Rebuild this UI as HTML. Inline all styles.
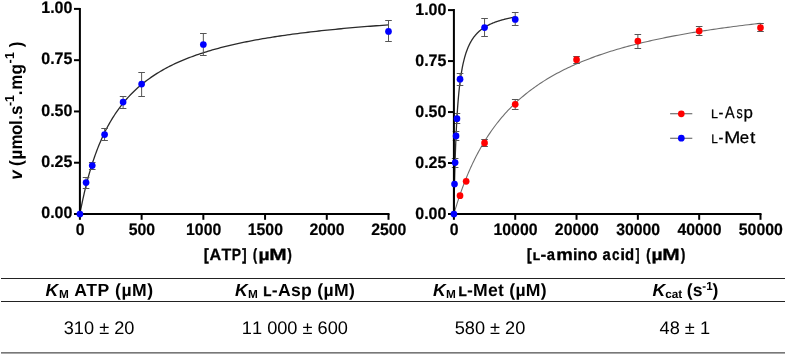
<!DOCTYPE html>
<html><head><meta charset="utf-8"><title>Kinetics</title>
<style>html,body{margin:0;padding:0;background:#fff}body{width:785px;height:355px;overflow:hidden}</style></head>
<body>
<svg width="785" height="355" viewBox="0 0 785 355" style="display:block;font-family:'Liberation Sans',sans-serif;font-kerning:none;text-rendering:geometricPrecision;will-change:transform">
<rect width="785" height="355" fill="#fff"/>
<polyline fill="none" stroke="#2b2b2b" stroke-width="1.3" points="79.90,214.00 79.91,213.96 79.93,213.84 79.97,213.63 80.02,213.34 80.09,212.98 80.18,212.53 80.28,212.00 80.39,211.40 80.52,210.72 80.67,209.97 80.83,209.14 81.01,208.24 81.20,207.27 81.41,206.24 81.64,205.14 81.88,203.97 82.13,202.75 82.40,201.46 82.69,200.13 82.99,198.73 83.30,197.29 83.63,195.80 83.98,194.27 84.34,192.69 84.72,191.07 85.12,189.41 85.52,187.72 85.95,186.00 86.39,184.25 86.84,182.47 87.31,180.66 87.80,178.84 88.30,176.99 88.82,175.13 89.35,173.25 89.90,171.36 90.46,169.46 91.04,167.55 91.63,165.64 92.24,163.71 92.87,161.79 93.51,159.87 94.17,157.94 94.84,156.02 95.52,154.10 96.22,152.19 96.94,150.28 97.68,148.38 98.42,146.49 99.19,144.61 99.97,142.74 100.76,140.89 101.57,139.04 102.40,137.21 103.24,135.40 104.09,133.60 104.97,131.82 105.85,130.05 106.76,128.30 107.67,126.57 108.61,124.86 109.56,123.16 110.52,121.49 111.50,119.83 112.50,118.20 113.51,116.58 114.53,114.98 115.57,113.41 116.63,111.85 117.70,110.32 118.79,108.80 119.89,107.31 121.01,105.83 122.15,104.38 123.30,102.95 124.46,101.54 125.64,100.14 126.84,98.77 128.05,97.42 129.28,96.09 130.52,94.78 131.78,93.49 133.05,92.21 134.34,90.96 135.64,89.73 136.96,88.51 138.29,87.32 139.64,86.14 141.01,84.98 142.39,83.84 143.79,82.72 145.20,81.62 146.63,80.53 148.07,79.46 149.53,78.41 151.00,77.37 152.49,76.36 153.99,75.35 155.51,74.37 157.05,73.40 158.60,72.44 160.17,71.51 161.75,70.58 163.35,69.67 164.96,68.78 166.59,67.90 168.23,67.04 169.89,66.18 171.56,65.35 173.25,64.52 174.96,63.71 176.68,62.92 178.41,62.13 180.16,61.36 181.93,60.60 183.71,59.85 185.51,59.12 187.32,58.40 189.15,57.69 191.00,56.99 192.86,56.30 194.73,55.62 196.62,54.95 198.53,54.30 200.45,53.65 202.38,53.01 204.34,52.39 206.30,51.77 208.29,51.17 210.28,50.57 212.30,49.98 214.33,49.41 216.37,48.84 218.43,48.28 220.51,47.73 222.60,47.18 224.70,46.65 226.82,46.12 228.96,45.61 231.11,45.10 233.28,44.59 235.47,44.10 237.66,43.61 239.88,43.13 242.11,42.66 244.35,42.20 246.61,41.74 248.89,41.29 251.18,40.84 253.49,40.41 255.81,39.97 258.15,39.55 260.50,39.13 262.87,38.72 265.25,38.31 267.65,37.91 270.07,37.52 272.50,37.13 274.94,36.75 277.40,36.37 279.88,36.00 282.37,35.63 284.88,35.27 287.40,34.91 289.94,34.56 292.49,34.21 295.06,33.87 297.65,33.53 300.25,33.20 302.86,32.88 305.49,32.55 308.14,32.23 310.80,31.92 313.48,31.61 316.17,31.31 318.88,31.01 321.60,30.71 324.34,30.42 327.10,30.13 329.87,29.84 332.65,29.56 335.45,29.28 338.27,29.01 341.10,28.74 343.95,28.47 346.81,28.21 349.69,27.95 352.58,27.70 355.49,27.44 358.41,27.19 361.35,26.95 364.31,26.71 367.28,26.47 370.26,26.23 373.26,26.00 376.28,25.77 379.31,25.54 382.36,25.31 385.42,25.09 388.50,24.87"/>
<polyline fill="none" stroke="#6e6e6e" stroke-width="1.1" points="453.90,214.00 453.91,213.97 453.93,213.89 453.97,213.76 454.02,213.58 454.09,213.34 454.18,213.05 454.28,212.71 454.39,212.32 454.52,211.88 454.67,211.39 454.83,210.84 455.00,210.25 455.20,209.62 455.40,208.93 455.62,208.20 455.86,207.42 456.12,206.60 456.38,205.74 456.67,204.83 456.97,203.88 457.28,202.90 457.61,201.87 457.95,200.81 458.32,199.71 458.69,198.57 459.08,197.40 459.49,196.20 459.91,194.97 460.35,193.71 460.80,192.41 461.27,191.09 461.75,189.75 462.25,188.38 462.76,186.99 463.29,185.57 463.83,184.14 464.39,182.68 464.97,181.21 465.56,179.71 466.16,178.21 466.78,176.69 467.42,175.15 468.07,173.60 468.74,172.05 469.42,170.48 470.12,168.90 470.83,167.32 471.56,165.73 472.30,164.13 473.06,162.53 473.84,160.92 474.63,159.32 475.43,157.71 476.25,156.10 477.09,154.48 477.94,152.87 478.80,151.27 479.69,149.66 480.58,148.06 481.49,146.46 482.42,144.86 483.36,143.27 484.32,141.69 485.30,140.11 486.28,138.53 487.29,136.97 488.31,135.41 489.34,133.86 490.39,132.32 491.46,130.79 492.54,129.27 493.64,127.75 494.75,126.25 495.87,124.76 497.02,123.28 498.17,121.81 499.35,120.35 500.53,118.90 501.74,117.47 502.96,116.04 504.19,114.63 505.44,113.23 506.70,111.84 507.98,110.47 509.28,109.11 510.59,107.76 511.92,106.42 513.26,105.10 514.61,103.79 515.99,102.49 517.37,101.21 518.78,99.94 520.19,98.68 521.63,97.44 523.08,96.21 524.54,94.99 526.02,93.78 527.51,92.59 529.02,91.42 530.55,90.25 532.09,89.10 533.65,87.96 535.22,86.83 536.80,85.72 538.41,84.62 540.02,83.53 541.66,82.46 543.30,81.40 544.97,80.35 546.65,79.31 548.34,78.28 550.05,77.27 551.77,76.27 553.51,75.28 555.27,74.30 557.04,73.34 558.83,72.39 560.63,71.45 562.44,70.52 564.28,69.60 566.12,68.69 567.99,67.79 569.86,66.91 571.76,66.03 573.67,65.17 575.59,64.32 577.53,63.48 579.48,62.64 581.45,61.82 583.44,61.01 585.44,60.21 587.45,59.42 589.49,58.64 591.53,57.87 593.59,57.11 595.67,56.35 597.76,55.61 599.87,54.88 602.00,54.15 604.13,53.44 606.29,52.73 608.46,52.04 610.64,51.35 612.84,50.67 615.06,49.99 617.29,49.33 619.53,48.68 621.79,48.03 624.07,47.39 626.36,46.76 628.67,46.14 630.99,45.52 633.33,44.91 635.68,44.31 638.05,43.72 640.44,43.14 642.83,42.56 645.25,41.99 647.68,41.42 650.12,40.87 652.58,40.31 655.06,39.77 657.55,39.23 660.06,38.70 662.58,38.18 665.12,37.66 667.67,37.15 670.24,36.65 672.82,36.15 675.42,35.66 678.03,35.17 680.66,34.69 683.31,34.21 685.97,33.74 688.64,33.28 691.33,32.82 694.04,32.37 696.76,31.92 699.49,31.48 702.25,31.04 705.01,30.61 707.80,30.18 710.59,29.76 713.41,29.35 716.23,28.93 719.08,28.53 721.94,28.13 724.81,27.73 727.70,27.34 730.61,26.95 733.53,26.56 736.46,26.18 739.41,25.81 742.38,25.44 745.36,25.07 748.36,24.71 751.37,24.35 754.40,24.00 757.44,23.65 760.50,23.30"/>
<polyline fill="none" stroke="#2b2b2b" stroke-width="1.3" points="453.90,214.00 453.90,213.91 453.91,213.64 453.91,213.19 453.92,212.57 453.94,211.78 453.96,210.82 453.98,209.69 454.00,208.41 454.02,206.97 454.05,205.39 454.09,203.67 454.12,201.82 454.16,199.85 454.20,197.77 454.24,195.58 454.29,193.29 454.34,190.92 454.40,188.46 454.45,185.94 454.51,183.36 454.58,180.72 454.64,178.03 454.71,175.31 454.78,172.55 454.86,169.78 454.94,166.98 455.02,164.18 455.10,161.37 455.19,158.56 455.28,155.76 455.37,152.96 455.47,150.19 455.57,147.43 455.67,144.70 455.78,141.99 455.89,139.31 456.00,136.67 456.11,134.06 456.23,131.48 456.35,128.94 456.48,126.45 456.60,123.99 456.73,121.58 456.87,119.21 457.00,116.88 457.14,114.60 457.29,112.36 457.43,110.17 457.58,108.02 457.73,105.92 457.89,103.86 458.05,101.84 458.21,99.87 458.37,97.95 458.54,96.06 458.71,94.22 458.88,92.43 459.06,90.67 459.24,88.95 459.42,87.28 459.60,85.64 459.79,84.05 459.98,82.49 460.18,80.97 460.38,79.48 460.58,78.03 460.78,76.62 460.99,75.24 461.20,73.89 461.41,72.57 461.63,71.29 461.85,70.04 462.07,68.82 462.29,67.63 462.52,66.46 462.75,65.33 462.99,64.22 463.23,63.14 463.47,62.09 463.71,61.06 463.96,60.05 464.21,59.07 464.46,58.11 464.72,57.18 464.98,56.26 465.24,55.37 465.50,54.50 465.77,53.65 466.04,52.82 466.32,52.01 466.59,51.22 466.88,50.44 467.16,49.69 467.45,48.95 467.74,48.23 468.03,47.52 468.32,46.83 468.62,46.16 468.92,45.50 469.23,44.86 469.54,44.23 469.85,43.61 470.16,43.01 470.48,42.42 470.80,41.84 471.12,41.28 471.45,40.73 471.78,40.19 472.11,39.66 472.45,39.14 472.79,38.63 473.13,38.14 473.47,37.65 473.82,37.18 474.17,36.71 474.53,36.26 474.89,35.81 475.25,35.38 475.61,34.95 475.98,34.53 476.34,34.12 476.72,33.72 477.09,33.32 477.47,32.93 477.85,32.56 478.24,32.18 478.63,31.82 479.02,31.46 479.41,31.11 479.81,30.77 480.21,30.43 480.61,30.10 481.02,29.78 481.43,29.46 481.84,29.15 482.25,28.84 482.67,28.54 483.09,28.24 483.52,27.95 483.95,27.67 484.38,27.39 484.81,27.12 485.25,26.85 485.69,26.58 486.13,26.32 486.58,26.07 487.03,25.82 487.48,25.57 487.93,25.33 488.39,25.09 488.85,24.86 489.32,24.63 489.79,24.40 490.26,24.18 490.73,23.97 491.21,23.75 491.69,23.54 492.17,23.33 492.66,23.13 493.14,22.93 493.64,22.73 494.13,22.54 494.63,22.35 495.13,22.16 495.64,21.98 496.14,21.80 496.65,21.62 497.17,21.44 497.68,21.27 498.20,21.10 498.73,20.93 499.25,20.77 499.78,20.61 500.31,20.45 500.85,20.29 501.39,20.13 501.93,19.98 502.47,19.83 503.02,19.68 503.57,19.54 504.12,19.40 504.68,19.25 505.24,19.12 505.80,18.98 506.37,18.84 506.94,18.71 507.51,18.58 508.08,18.45 508.66,18.32 509.24,18.20 509.83,18.07 510.41,17.95 511.00,17.83 511.60,17.71 512.19,17.60 512.79,17.48 513.39,17.37 514.00,17.26 514.61,17.15 515.22,17.04"/>
<path d="M86.07 177.50V188.50M82.77 177.50H89.37M82.77 188.50H89.37" stroke="#555" stroke-width="1" fill="none"/>
<path d="M92.24 162.50V169.50M88.94 162.50H95.54M88.94 169.50H95.54" stroke="#555" stroke-width="1" fill="none"/>
<path d="M104.59 128.50V140.50M101.29 128.50H107.89M101.29 140.50H107.89" stroke="#555" stroke-width="1" fill="none"/>
<path d="M123.10 96.50V108.50M119.80 96.50H126.40M119.80 108.50H126.40" stroke="#555" stroke-width="1" fill="none"/>
<path d="M141.62 72.50V96.50M138.32 72.50H144.92M138.32 96.50H144.92" stroke="#555" stroke-width="1" fill="none"/>
<path d="M203.34 33.50V55.50M200.04 33.50H206.64M200.04 55.50H206.64" stroke="#555" stroke-width="1" fill="none"/>
<path d="M388.50 20.50V41.50M385.20 20.50H391.80M385.20 41.50H391.80" stroke="#555" stroke-width="1" fill="none"/>
<path d="M484.56 139.50V146.50M481.26 139.50H487.86M481.26 146.50H487.86" stroke="#555" stroke-width="1" fill="none"/>
<path d="M515.22 99.50V109.50M511.92 99.50H518.52M511.92 109.50H518.52" stroke="#555" stroke-width="1" fill="none"/>
<path d="M576.54 56.50V63.50M573.24 56.50H579.84M573.24 63.50H579.84" stroke="#555" stroke-width="1" fill="none"/>
<path d="M637.86 34.50V48.50M634.56 34.50H641.16M634.56 48.50H641.16" stroke="#555" stroke-width="1" fill="none"/>
<path d="M699.18 26.50V35.50M695.88 26.50H702.48M695.88 35.50H702.48" stroke="#555" stroke-width="1" fill="none"/>
<path d="M760.50 23.50V31.50M757.20 23.50H763.80M757.20 31.50H763.80" stroke="#555" stroke-width="1" fill="none"/>
<path d="M455.13 158.50V167.50M451.83 158.50H458.43M451.83 167.50H458.43" stroke="#555" stroke-width="1" fill="none"/>
<path d="M456.05 131.50V140.50M452.75 131.50H459.35M452.75 140.50H459.35" stroke="#555" stroke-width="1" fill="none"/>
<path d="M456.97 113.50V123.50M453.67 113.50H460.27M453.67 123.50H460.27" stroke="#555" stroke-width="1" fill="none"/>
<path d="M460.03 73.50V85.50M456.73 73.50H463.33M456.73 85.50H463.33" stroke="#555" stroke-width="1" fill="none"/>
<path d="M484.56 18.50V36.50M481.26 18.50H487.86M481.26 36.50H487.86" stroke="#555" stroke-width="1" fill="none"/>
<path d="M515.22 12.50V25.50M511.92 12.50H518.52M511.92 25.50H518.52" stroke="#555" stroke-width="1" fill="none"/>
<path d="M79.90 7.90V215.00M78.90 214.00H389.50" stroke="#000" stroke-width="2" fill="none"/>
<path d="M79.90 214.00V219.80" stroke="#000" stroke-width="2"/>
<path d="M141.62 214.00V219.80" stroke="#000" stroke-width="2"/>
<path d="M203.34 214.00V219.80" stroke="#000" stroke-width="2"/>
<path d="M265.06 214.00V219.80" stroke="#000" stroke-width="2"/>
<path d="M326.78 214.00V219.80" stroke="#000" stroke-width="2"/>
<path d="M388.50 214.00V219.80" stroke="#000" stroke-width="2"/>
<path d="M79.90 214.00H74.00" stroke="#000" stroke-width="2"/>
<path d="M79.90 162.72H74.00" stroke="#000" stroke-width="2"/>
<path d="M79.90 111.45H74.00" stroke="#000" stroke-width="2"/>
<path d="M79.90 60.18H74.00" stroke="#000" stroke-width="2"/>
<path d="M79.90 8.90H74.00" stroke="#000" stroke-width="2"/>
<path d="M453.90 9.10V215.00M452.90 214.00H761.50" stroke="#000" stroke-width="2" fill="none"/>
<path d="M453.90 214.00V219.80" stroke="#000" stroke-width="2"/>
<path d="M515.22 214.00V219.80" stroke="#000" stroke-width="2"/>
<path d="M576.54 214.00V219.80" stroke="#000" stroke-width="2"/>
<path d="M637.86 214.00V219.80" stroke="#000" stroke-width="2"/>
<path d="M699.18 214.00V219.80" stroke="#000" stroke-width="2"/>
<path d="M760.50 214.00V219.80" stroke="#000" stroke-width="2"/>
<path d="M453.90 214.00H448.00" stroke="#000" stroke-width="2"/>
<path d="M453.90 163.03H448.00" stroke="#000" stroke-width="2"/>
<path d="M453.90 112.05H448.00" stroke="#000" stroke-width="2"/>
<path d="M453.90 61.07H448.00" stroke="#000" stroke-width="2"/>
<path d="M453.90 10.10H448.00" stroke="#000" stroke-width="2"/>
<circle cx="79.90" cy="214.00" r="3.35" fill="#0000ff"/>
<circle cx="86.07" cy="182.60" r="3.35" fill="#0000ff"/>
<circle cx="92.24" cy="165.60" r="3.35" fill="#0000ff"/>
<circle cx="104.59" cy="134.60" r="3.35" fill="#0000ff"/>
<circle cx="123.10" cy="102.10" r="3.35" fill="#0000ff"/>
<circle cx="141.62" cy="84.10" r="3.35" fill="#0000ff"/>
<circle cx="203.34" cy="44.50" r="3.35" fill="#0000ff"/>
<circle cx="388.50" cy="31.40" r="3.35" fill="#0000ff"/>
<circle cx="460.03" cy="195.70" r="3.35" fill="#ff0000"/>
<circle cx="466.16" cy="181.30" r="3.35" fill="#ff0000"/>
<circle cx="484.56" cy="142.90" r="3.35" fill="#ff0000"/>
<circle cx="515.22" cy="104.30" r="3.35" fill="#ff0000"/>
<circle cx="576.54" cy="59.70" r="3.35" fill="#ff0000"/>
<circle cx="637.86" cy="41.10" r="3.35" fill="#ff0000"/>
<circle cx="699.18" cy="30.90" r="3.35" fill="#ff0000"/>
<circle cx="760.50" cy="27.70" r="3.35" fill="#ff0000"/>
<circle cx="453.90" cy="214.00" r="3.35" fill="#0000ff"/>
<circle cx="454.51" cy="184.00" r="3.35" fill="#0000ff"/>
<circle cx="455.13" cy="162.60" r="3.35" fill="#0000ff"/>
<circle cx="456.05" cy="135.90" r="3.35" fill="#0000ff"/>
<circle cx="456.97" cy="118.70" r="3.35" fill="#0000ff"/>
<circle cx="460.03" cy="79.20" r="3.35" fill="#0000ff"/>
<circle cx="484.56" cy="27.60" r="3.35" fill="#0000ff"/>
<circle cx="515.22" cy="19.40" r="3.35" fill="#0000ff"/>
<g font-weight="bold" font-size="16.6px" fill="#000" stroke="#000" stroke-width="0.2">
<text x="41.26" y="218.30" textLength="31.14" lengthAdjust="spacingAndGlyphs">0.00</text>
<text x="415.26" y="218.50" textLength="31.14" lengthAdjust="spacingAndGlyphs">0.00</text>
<text x="41.26" y="167.03" textLength="31.14" lengthAdjust="spacingAndGlyphs">0.25</text>
<text x="415.26" y="167.53" textLength="31.14" lengthAdjust="spacingAndGlyphs">0.25</text>
<text x="41.26" y="115.75" textLength="31.14" lengthAdjust="spacingAndGlyphs">0.50</text>
<text x="415.26" y="116.55" textLength="31.14" lengthAdjust="spacingAndGlyphs">0.50</text>
<text x="41.26" y="64.48" textLength="31.14" lengthAdjust="spacingAndGlyphs">0.75</text>
<text x="415.26" y="65.57" textLength="31.14" lengthAdjust="spacingAndGlyphs">0.75</text>
<text x="41.26" y="13.20" textLength="31.14" lengthAdjust="spacingAndGlyphs">1.00</text>
<text x="415.26" y="14.60" textLength="31.14" lengthAdjust="spacingAndGlyphs">1.00</text>
<text x="75.80" y="235.4" textLength="8.80" lengthAdjust="spacingAndGlyphs">0</text>
<text x="128.72" y="235.4" textLength="26.40" lengthAdjust="spacingAndGlyphs">500</text>
<text x="186.04" y="235.4" textLength="35.20" lengthAdjust="spacingAndGlyphs">1000</text>
<text x="247.76" y="235.4" textLength="35.20" lengthAdjust="spacingAndGlyphs">1500</text>
<text x="309.48" y="235.4" textLength="35.20" lengthAdjust="spacingAndGlyphs">2000</text>
<text x="371.20" y="235.4" textLength="35.20" lengthAdjust="spacingAndGlyphs">2500</text>
<text x="449.80" y="235.4" textLength="8.80" lengthAdjust="spacingAndGlyphs">0</text>
<text x="493.52" y="235.4" textLength="44.00" lengthAdjust="spacingAndGlyphs">10000</text>
<text x="554.84" y="235.4" textLength="44.00" lengthAdjust="spacingAndGlyphs">20000</text>
<text x="616.16" y="235.4" textLength="44.00" lengthAdjust="spacingAndGlyphs">30000</text>
<text x="677.48" y="235.4" textLength="44.00" lengthAdjust="spacingAndGlyphs">40000</text>
<text x="738.80" y="235.4" textLength="44.00" lengthAdjust="spacingAndGlyphs">50000</text>
</g>
<text x="204.11" y="260.00" font-size="16.3px" textLength="4.66" lengthAdjust="spacingAndGlyphs" fill="#000" stroke="#000" stroke-width="0.5" font-weight="bold">[</text>
<text x="209.60" y="260.00" font-size="16.3px" textLength="11.63" lengthAdjust="spacingAndGlyphs" fill="#000" stroke="#000" stroke-width="0.3" font-weight="bold">A</text>
<text x="221.42" y="260.00" font-size="16.3px" textLength="9.75" lengthAdjust="spacingAndGlyphs" fill="#000" stroke="#000" stroke-width="0.3" font-weight="bold">T</text>
<text x="231.87" y="260.00" font-size="16.3px" textLength="9.31" lengthAdjust="spacingAndGlyphs" fill="#000" stroke="#000" stroke-width="0.3" font-weight="bold">P</text>
<text x="242.34" y="260.00" font-size="16.3px" textLength="4.28" lengthAdjust="spacingAndGlyphs" fill="#000" stroke="#000" stroke-width="0.5" font-weight="bold">]</text>
<text x="253.10" y="260.00" font-size="16.3px" textLength="4.01" lengthAdjust="spacingAndGlyphs" fill="#000" stroke="#000" stroke-width="0.5" font-weight="bold">(</text>
<text x="258.44" y="260.00" font-size="16.3px" textLength="11.12" lengthAdjust="spacingAndGlyphs" fill="#000" stroke="#000" stroke-width="0.3" font-weight="bold">µ</text>
<text x="269.30" y="260.00" font-size="16.3px" textLength="17.39" lengthAdjust="spacingAndGlyphs" fill="#000" stroke="#000" stroke-width="0.3" font-weight="bold">M</text>
<text x="287.59" y="260.00" font-size="16.3px" textLength="4.25" lengthAdjust="spacingAndGlyphs" fill="#000" stroke="#000" stroke-width="0.5" font-weight="bold">)</text>
<text x="527.04" y="260.00" font-size="16.3px" textLength="4.53" lengthAdjust="spacingAndGlyphs" fill="#000" stroke="#000" stroke-width="0.5" font-weight="bold">[</text>
<text x="532.93" y="260.00" font-size="10.8px" textLength="7.02" lengthAdjust="spacingAndGlyphs" fill="#000" stroke="#000" stroke-width="0.5" font-weight="bold">L</text>
<text x="540.42" y="260.00" font-size="16.3px" textLength="5.77" lengthAdjust="spacingAndGlyphs" fill="#000" stroke="#000" stroke-width="0.3" font-weight="bold">-</text>
<text x="546.77" y="260.00" font-size="16.3px" textLength="8.24" lengthAdjust="spacingAndGlyphs" fill="#000" stroke="#000" stroke-width="0.3" font-weight="bold">a</text>
<text x="556.17" y="260.00" font-size="16.3px" textLength="16.59" lengthAdjust="spacingAndGlyphs" fill="#000" stroke="#000" stroke-width="0.3" font-weight="bold">m</text>
<text x="572.88" y="260.00" font-size="16.3px" textLength="4.45" lengthAdjust="spacingAndGlyphs" fill="#000" stroke="#000" stroke-width="0.3" font-weight="bold">i</text>
<text x="577.44" y="260.00" font-size="16.3px" textLength="9.87" lengthAdjust="spacingAndGlyphs" fill="#000" stroke="#000" stroke-width="0.3" font-weight="bold">n</text>
<text x="587.46" y="260.00" font-size="16.3px" textLength="9.98" lengthAdjust="spacingAndGlyphs" fill="#000" stroke="#000" stroke-width="0.3" font-weight="bold">o</text>
<text x="602.47" y="260.00" font-size="16.3px" textLength="8.24" lengthAdjust="spacingAndGlyphs" fill="#000" stroke="#000" stroke-width="0.3" font-weight="bold">a</text>
<text x="612.07" y="260.00" font-size="16.3px" textLength="7.52" lengthAdjust="spacingAndGlyphs" fill="#000" stroke="#000" stroke-width="0.3" font-weight="bold">c</text>
<text x="620.28" y="260.00" font-size="16.3px" textLength="4.86" lengthAdjust="spacingAndGlyphs" fill="#000" stroke="#000" stroke-width="0.3" font-weight="bold">i</text>
<text x="625.09" y="260.00" font-size="16.3px" textLength="9.09" lengthAdjust="spacingAndGlyphs" fill="#000" stroke="#000" stroke-width="0.3" font-weight="bold">d</text>
<text x="635.77" y="260.00" font-size="16.3px" textLength="3.65" lengthAdjust="spacingAndGlyphs" fill="#000" stroke="#000" stroke-width="0.5" font-weight="bold">]</text>
<text x="646.16" y="260.00" font-size="16.3px" textLength="4.25" lengthAdjust="spacingAndGlyphs" fill="#000" stroke="#000" stroke-width="0.5" font-weight="bold">(</text>
<text x="651.44" y="260.00" font-size="16.3px" textLength="11.12" lengthAdjust="spacingAndGlyphs" fill="#000" stroke="#000" stroke-width="0.3" font-weight="bold">µ</text>
<text x="662.30" y="260.00" font-size="16.3px" textLength="17.39" lengthAdjust="spacingAndGlyphs" fill="#000" stroke="#000" stroke-width="0.3" font-weight="bold">M</text>
<text x="680.99" y="260.00" font-size="16.3px" textLength="4.25" lengthAdjust="spacingAndGlyphs" fill="#000" stroke="#000" stroke-width="0.5" font-weight="bold">)</text>
<g transform="translate(21.9,178.5) rotate(-90) scale(1,1.05)" font-weight="bold" font-size="17px" fill="#000">
<text x="-1.2" y="0" font-style="italic">v</text>
<text x="12.5" y="0">(</text>
<text x="18.9" y="0">µ</text>
<text x="29.1" y="0">m</text>
<text x="43.6" y="0">o</text>
<text x="53.6" y="0">l</text>
<text x="58.7" y="0">.</text>
<text x="63.5" y="0">s</text>
<text x="72.6" y="-7.6" font-size="12.5px">-</text>
<text x="76.5" y="-7.6" font-size="12.5px">1</text>
<text x="83.2" y="0">.</text>
<text x="88.8" y="0">m</text>
<text x="104.0" y="0">g</text>
<text x="115.0" y="-7.6" font-size="12.5px">-</text>
<text x="119.5" y="-7.6" font-size="12.5px">1</text>
<text x="131.2" y="0">)</text>
</g>
<path d="M670.1 113.7H692.3M670.1 138.3H692.3" stroke="#555" stroke-width="1.1"/>
<circle cx="681.3" cy="113.8" r="3.35" fill="#ff0000"/><circle cx="681.3" cy="138.2" r="3.35" fill="#0000ff"/>
<text x="711.08" y="118.30" font-size="12.3px" textLength="6.94" lengthAdjust="spacingAndGlyphs" fill="#000" stroke="#000" stroke-width="0.25">L</text>
<text x="718.44" y="118.30" font-size="16.6px" textLength="4.91" lengthAdjust="spacingAndGlyphs" fill="#000" stroke="#000" stroke-width="0.25">-</text>
<text x="724.97" y="118.30" font-size="16.6px" textLength="9.66" lengthAdjust="spacingAndGlyphs" fill="#000" stroke="#000" stroke-width="0.25">A</text>
<text x="736.46" y="118.30" font-size="16.6px" textLength="6.19" lengthAdjust="spacingAndGlyphs" fill="#000" stroke="#000" stroke-width="0.25">s</text>
<text x="743.61" y="118.30" font-size="16.6px" textLength="9.40" lengthAdjust="spacingAndGlyphs" fill="#000" stroke="#000" stroke-width="0.25">p</text>
<text x="711.13" y="143.30" font-size="12.3px" textLength="6.56" lengthAdjust="spacingAndGlyphs" fill="#000" stroke="#000" stroke-width="0.25">L</text>
<text x="718.44" y="143.30" font-size="16.6px" textLength="4.91" lengthAdjust="spacingAndGlyphs" fill="#000" stroke="#000" stroke-width="0.25">-</text>
<text x="724.32" y="143.30" font-size="16.6px" textLength="16.06" lengthAdjust="spacingAndGlyphs" fill="#000" stroke="#000" stroke-width="0.25">M</text>
<text x="739.88" y="143.30" font-size="16.6px" textLength="9.36" lengthAdjust="spacingAndGlyphs" fill="#000" stroke="#000" stroke-width="0.25">e</text>
<text x="750.11" y="143.30" font-size="16.6px" textLength="5.33" lengthAdjust="spacingAndGlyphs" fill="#000" stroke="#000" stroke-width="0.25">t</text>
<path d="M1 278.5H785M1 301.5H785M1 352.9H785" stroke="#222" stroke-width="1"/>
<g font-weight="bold" font-size="17.6px" fill="#000" style="font-kerning:normal">
<text x="45.6" y="295.7" textLength="107.6" lengthAdjust="spacing"><tspan font-style="italic">K</tspan><tspan font-size="11.8px" dy="2.4">M</tspan><tspan dy="-2.4"> ATP (µM)</tspan></text>
<text x="234.9" y="295.7" textLength="119.9" lengthAdjust="spacing"><tspan font-style="italic">K</tspan><tspan font-size="11.8px" dy="2.4">M</tspan><tspan dy="-2.4"> </tspan><tspan font-size="13.4px" stroke="#000" stroke-width="0.45">L</tspan>-Asp (µM)</text>
<text x="432.9" y="295.7" textLength="113.7" lengthAdjust="spacing"><tspan font-style="italic">K</tspan><tspan font-size="11.8px" dy="2.4">M</tspan><tspan dy="-2.4" font-size="8px"> </tspan><tspan font-size="13.4px" stroke="#000" stroke-width="0.45">L</tspan>-Met (µM)</text>
<text x="652.6" y="295.7" textLength="65.8" lengthAdjust="spacing"><tspan font-style="italic">K</tspan><tspan font-size="11.8px" dy="2.4">cat</tspan><tspan dy="-2.4"> (s</tspan><tspan font-size="11.6px" dy="-6">-1</tspan><tspan dy="6">)</tspan></text>
</g>
<g font-size="18.2px" fill="#000" text-anchor="middle">
<text x="99.1" y="333.6">310 ± 20</text>
<text x="294.9" y="333.6">11 000 ± 600</text>
<text x="490" y="333.6">580 ± 20</text>
<text x="684.8" y="333.6">48 ± 1</text>
</g>
</svg>
</body></html>
